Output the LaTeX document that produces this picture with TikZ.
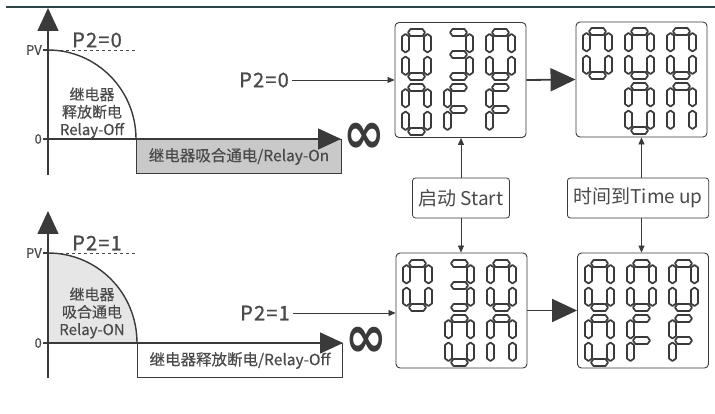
\documentclass[tikz,border=0pt]{standalone}
\usepackage{fontspec}
\newfontfamily\cjk{Noto Sans CJK SC}
\newfontfamily\symfnt{DejaVu Sans}
\usetikzlibrary{arrows.meta,calc}
\definecolor{xianHui}{HTML}{3A3A3A}
\definecolor{ziHui}{HTML}{4A4A4A}
\definecolor{heHui}{HTML}{C9C9C9}
\definecolor{tianHui}{HTML}{E6E6E6}
\definecolor{dingLan}{HTML}{2B4445}
% seven-segment parts, cell 29 x 51
\newcommand\hseg[1]{\draw[segline] (6,#1) -- ++(2.5,-3.5) -- ++(12,0) -- ++(2.5,3.5) -- ++(-2.5,3.5) -- ++(-12,0) -- cycle;}
\newcommand\vseg[2]{\draw[segline] (#1,#2) -- ++(3.5,2.5) -- ++(0,13.5) -- ++(-3.5,2.5) -- ++(-3.5,-2.5) -- ++(0,-13.5) -- cycle;}
\newcommand\sgA{\hseg{3.5}}
\newcommand\sgB{\vseg{25.5}{5}}
\newcommand\sgC{\vseg{25.5}{27.5}}
\newcommand\sgD{\hseg{47.5}}
\newcommand\sgE{\vseg{3.5}{27.5}}
\newcommand\sgF{\vseg{3.5}{5}}
\newcommand\sgG{\hseg{25.5}}
\newcommand\gZero{A,B,C,D,E,F}
\newcommand\gThree{A,B,C,D,G}
\newcommand\gEf{A,E,F,G}
\newcommand\gEn{A,B,C,E,F}
\newcommand\glyph[3]{\begin{scope}[shift={(#1,#2)}]\foreach \s in #3 {\csname sg\s\endcsname}\end{scope}}
\begin{document}
\begin{tikzpicture}[x=1pt,y=-1pt,font=\cjk,
  axis/.style={xianHui,line width=1.4pt},
  segline/.style={xianHui,line width=1.7pt,fill=white,line join=round},
  dispbox/.style={draw=xianHui,line width=0.9pt,rounded corners=4pt,minimum width=131pt,minimum height=115pt},
  tagbox/.style={draw=xianHui,line width=0.8pt,rounded corners=3pt,minimum height=40pt,inner xsep=6pt,text=ziHui,font=\cjk\fontsize{19}{19}\selectfont},
  statebox/.style={draw=xianHui,line width=1pt,minimum width=205pt,minimum height=34pt,anchor=north west,text=ziHui,font=\cjk\fontsize{15.5}{15.5}\selectfont\addfontfeatures{FakeBold=0.4}},
  charttxt/.style={text=ziHui,align=center,font=\cjk\fontsize{15}{17.5}\selectfont\addfontfeatures{FakeBold=0.4}},
  p2lbl/.style={text=ziHui,font=\cjk\fontsize{20}{20}\selectfont\addfontfeatures{LetterSpace=6,FakeBold=0.8}},
  ticklbl/.style={text=ziHui,font=\cjk\fontsize{13}{13}\selectfont\addfontfeatures{FakeBold=0.4},anchor=east,inner sep=1pt},
  infty/.style={text=xianHui,yscale=1.2,font=\symfnt\bfseries\fontsize{50}{50}\selectfont},
  thinarrow/.style={xianHui,line width=0.7pt,-{Triangle[length=7pt,width=6pt]}},
  bigarrow/.style={xianHui,line width=1.8pt,-{Triangle[length=25pt,width=23pt]}},
  axisarrow/.style={axis,-{Triangle[length=23pt,width=21pt]}}]
\useasboundingbox (0,0) rectangle (715,414);
\fill[white] (0,0) rectangle (715,414);
\draw[dingLan,line width=1.5pt] (6,7) -- (715,7);

% upper chart, P2=0
\draw[dashed,ziHui,dash pattern=on 3pt off 3pt] (48,50) -- (135,50);
\draw[axis] (48,50) .. controls (96.6,50) and (136,89.8) .. (136,139);
\node[statebox,fill=heHui] (on1) at (136,139) {继电器吸合通电/Relay-On};
\draw[axisarrow] (48,175) -- (48,8);
\draw[axisarrow] (48,139) -- (341,139);
\draw[axis] (43,50) -- (48,50);
\draw[axis] (43,139) -- (48,139);
\node[ticklbl] at (43,50) {PV};
\node[ticklbl] at (43,139) {0};
\node[p2lbl] at (97,40) {P2=0};
\node[charttxt] at (92,113) {继电器\\释放断电\\Relay-Off};
\node[infty] (inf1) at (364,138) {∞};

% lower chart, P2=1
\fill[tianHui] (48,343) -- (48,253) .. controls (97.2,253) and (137,292.7) .. (137,343) -- cycle;
\draw[dashed,ziHui,dash pattern=on 3pt off 3pt] (48,253) -- (136,253);
\draw[axis] (48,253) .. controls (97.2,253) and (137,292.7) .. (137,343);
\node[statebox] (off2) at (137,343) {继电器释放断电/Relay-Off};
\draw[axisarrow] (48,378) -- (48,211);
\draw[axisarrow] (48,343) -- (343,343);
\draw[axis] (43,253) -- (48,253);
\draw[axis] (43,343) -- (48,343);
\node[ticklbl] at (43,253) {PV};
\node[ticklbl] at (43,343) {0};
\node[p2lbl] at (97,243) {P2=1};
\node[charttxt] at (92,313) {继电器\\吸合通电\\Relay-ON};
\node[infty] (inf2) at (366,342) {∞};

% displays
\node[dispbox] (d1) at (460.5,80) {};
\node[dispbox] (d2) at (641.5,79.5) {};
\node[dispbox] (d3) at (461.5,310.5) {};
\node[dispbox] (d4) at (643,310.5) {};
\glyph{402}{29}{\gZero} \glyph{444}{29}{\gThree} \glyph{486}{29}{\gZero}
\glyph{402}{84}{\gZero} \glyph{444}{84}{\gEf} \glyph{486}{84}{\gEf}
\glyph{583}{28}{\gZero} \glyph{625}{28}{\gZero} \glyph{667}{28}{\gZero}
\glyph{625}{83}{\gZero} \glyph{667}{83}{\gEn}
\glyph{403}{260}{\gZero} \glyph{445}{260}{\gThree} \glyph{487}{260}{\gZero}
\glyph{445}{315}{\gZero} \glyph{487}{315}{\gEn}
\glyph{585}{260}{\gZero} \glyph{627}{260}{\gZero} \glyph{669}{260}{\gZero}
\glyph{585}{315}{\gZero} \glyph{627}{315}{\gEf} \glyph{669}{315}{\gEf}

% labels and connectors
\node[p2lbl] (p2a) at (264,80) {P2=0};
\node[p2lbl] (p2b) at (265,313) {P2=1};
\node[tagbox] (st) at (461,198) {启动 Start};
\node[tagbox,anchor=west] (tu) at (567,198) {时间到Time up};
\draw[thinarrow] (p2a.east) -- (d1.west);
\draw[thinarrow] (p2b.east) -- (p2b.east -| d3.west);
\draw[bigarrow] (d1.east) -- (d2.west);
\draw[bigarrow] (d3.east) -- (d4.west);
\draw[thinarrow] (st.north) -- (st.north |- d1.south);
\draw[thinarrow] (st.south) -- (st.south |- d3.north);
\draw[thinarrow] (d2.south |- tu.north) -- (d2.south);
\draw[thinarrow] (d2.south |- tu.south) -- (d2.south |- d4.north);
\end{tikzpicture}
\end{document}
